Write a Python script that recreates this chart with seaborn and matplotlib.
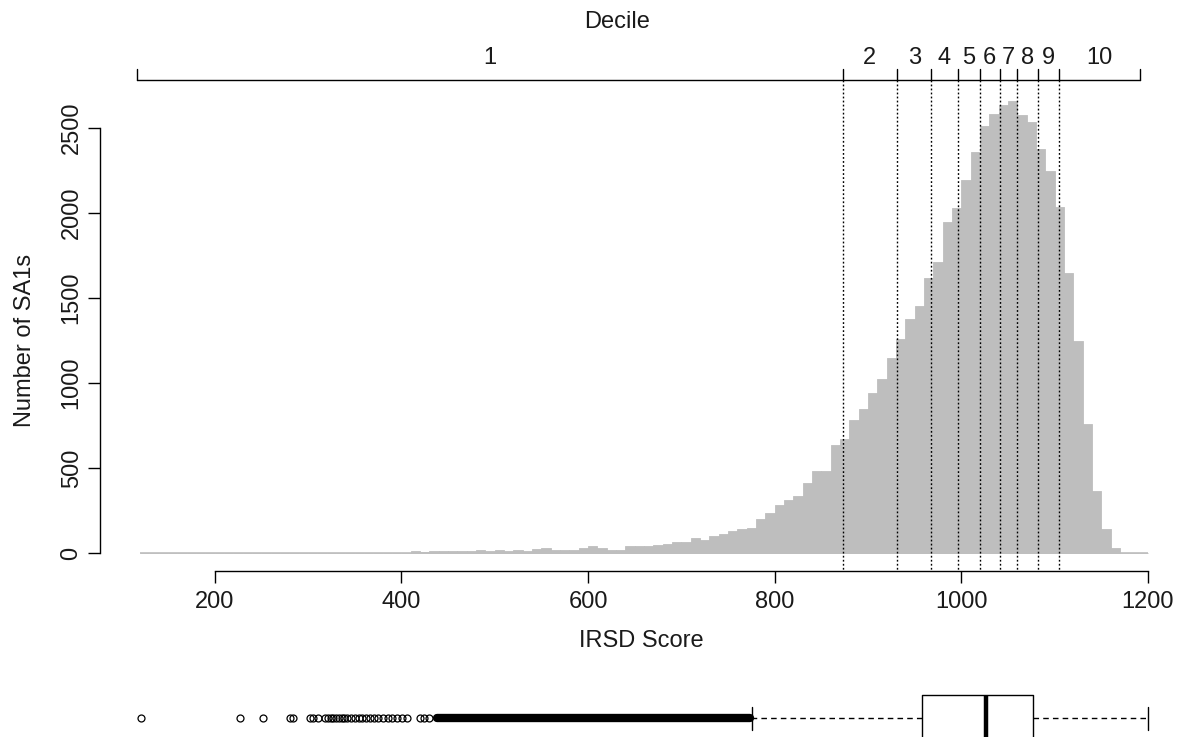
import numpy as np
import pandas as pd
import matplotlib
matplotlib.use("Agg")
import matplotlib.pyplot as plt
import matplotlib.transforms as mtransforms
import seaborn as sns

# ---------------- data ----------------
bin_start = 120
bin_end = 1200
bin_width = 10
# counts per 10-point bin, 120-130 ... 1190-1200
tail_zero = [0] * 29  # 120 .. 400
counts_410_800 = [12, 3, 10, 10, 10, 10, 10, 20, 10, 20, 10, 20, 10, 24, 30,
                  20, 20, 20, 27, 39, 31, 20, 20, 39, 39, 39, 47, 55, 65, 65,
                  85, 77, 102, 112, 128, 138, 147, 202, 236]
counts_800_1200 = [285, 310, 338, 409, 481, 481, 633, 672, 780, 849,
                   939, 1022, 1148, 1258, 1376, 1454, 1616, 1714, 1950, 2028,
                   2197, 2358, 2510, 2584, 2634, 2657, 2575, 2539, 2378, 2250,
                   2034, 1645, 1248, 761, 364, 138, 29, 0, 0, 0]
counts = tail_zero + counts_410_800 + counts_800_1200

decile_cuts = [873, 931, 968, 996, 1020, 1041, 1060, 1082, 1105]
decile_labels = ["1", "2", "3", "4", "5", "6", "7", "8", "9", "10"]
score_min = 117
score_max = 1191

box_q1 = 950
box_median = 1018
box_q3 = 1069
whisker_low = 769
whisker_high = 1191
sparse_outliers = [117.7, 223.5, 248.4, 276.8, 279.7, 298, 301.7, 307,
                   314, 317, 320, 323, 326, 329, 332,
                   334, 338, 342, 346, 350, 354, 358,
                   362, 366, 371, 376, 381,
                   386, 391, 396, 401,
                   415, 420, 425]
dense_outliers_from = 433
dense_outliers_to = 767

x_ticks = [200, 400, 600, 800, 1000, 1200]
y_ticks = [0, 500, 1000, 1500, 2000, 2500]

# ---------------- figure ----------------
sns.set_style("white")
plt.rcParams["font.family"] = ["Liberation Sans", "DejaVu Sans"]

TXT = "#1a1a1a"
FS = 17

W, H = 1183, 737
fig = plt.figure(figsize=(W / 100, H / 100), dpi=100)

def fx(px):
    return px / W

def fy(py):
    return (H - py) / H

reg_left, reg_right = 99.7, 1188.3
reg_top, reg_bottom = 83.4, 571.0

ax = fig.add_axes([fx(reg_left), fy(reg_bottom), fx(reg_right - reg_left),
                   (reg_bottom - reg_top) / H])

n_bins = len(counts)
centers = [bin_start + bin_width * (i + 0.5) for i in range(n_bins)]
df = pd.DataFrame({"score": centers, "n": counts})
sns.histplot(data=df, x="score", weights="n", binwidth=bin_width,
             binrange=(bin_start, bin_end), color="#bebebe",
             edgecolor="#bebebe", linewidth=0.6, alpha=1, ax=ax)
ax.hlines(0, bin_start, bin_end, color="#bebebe", lw=1.2, zorder=0.5)

span = bin_end - bin_start
ax.set_xlim(bin_start - 0.04 * span, bin_end + 0.04 * span)
ymax = max(counts)
ax.set_ylim(-0.04 * ymax, ymax * 1.04)

for s in ["top", "right"]:
    ax.spines[s].set_visible(False)
for s in ["left", "bottom"]:
    ax.spines[s].set_color("black")
    ax.spines[s].set_linewidth(1)
ax.spines["bottom"].set_bounds(x_ticks[0], x_ticks[-1])
ax.spines["left"].set_bounds(y_ticks[0], y_ticks[-1])
ax.set_xticks(x_ticks)
ax.set_yticks(y_ticks)
ax.set_xticklabels([str(v) for v in x_ticks])
ax.set_yticklabels([str(v) for v in y_ticks], rotation=90, va="center")
ax.tick_params(axis="both", which="major", bottom=True, left=True, direction="out",
               length=8.3, width=1, color="black", labelsize=FS, labelcolor=TXT)
ax.tick_params(axis="x", pad=6)
ax.tick_params(axis="y", pad=4)
ax.set_xlabel("")
ax.set_ylabel("")

# decile dotted lines and bracket (x data, y figure)
bt = mtransforms.blended_transform_factory(ax.transData, fig.transFigure)
bracket_y = 80
for c in decile_cuts:
    ax.plot([c, c], [fy(bracket_y), fy(reg_bottom)], transform=bt, color="black",
            lw=1.0, linestyle=(0, (1.3, 1.6)), clip_on=False)
bounds = [score_min] + decile_cuts + [score_max]
ax.plot([score_min, score_max], [fy(bracket_y), fy(bracket_y)], transform=bt,
        color="black", lw=1.0, clip_on=False)
for b in bounds:
    ax.plot([b, b], [fy(bracket_y), fy(bracket_y - 11)], transform=bt,
            color="black", lw=1.0, clip_on=False)
for i, lab in enumerate(decile_labels):
    mid = (bounds[i] + bounds[i + 1]) / 2
    ax.text(mid, fy(58), lab, transform=bt, ha="center", va="center",
            fontsize=FS, color=TXT)

fig.text(fx(617), fy(22), "Decile", ha="center", va="center", fontsize=FS,
         color=TXT)
fig.text(fx(25), fy(340), "Number of SA1s", ha="center", va="center",
         rotation=90, fontsize=FS, color=TXT)
fig.text(fx(641), fy(641), "IRSD Score", ha="center", va="center", fontsize=FS,
         color=TXT)

# ---------------- box plot ----------------
ax2 = fig.add_axes([fx(reg_left), fy(768), fx(reg_right - reg_left), 100 / H])
srange = score_max - score_min
ax2.set_xlim(score_min - 0.04 * srange, score_max + 0.04 * srange)
ax2.set_ylim(-1, 1)
ax2.axis("off")
stats = [{"med": box_median, "q1": box_q1, "q3": box_q3,
          "whislo": whisker_low, "whishi": whisker_high,
          "fliers": sparse_outliers}]
bkw = dict(positions=[0], widths=0.92, capwidths=0.46,
           boxprops=dict(color="black", lw=1.0),
           medianprops=dict(color="black", lw=3.2),
           whiskerprops=dict(color="black", lw=1.0, linestyle=(0, (4, 3))),
           capprops=dict(color="black", lw=1.0),
           flierprops=dict(marker="o", markerfacecolor="none",
                           markeredgecolor="black", markersize=5,
                           markeredgewidth=0.9))
try:
    ax2.bxp(stats, orientation="horizontal", **bkw)
except TypeError:
    ax2.bxp(stats, vert=False, **bkw)
ax2.set_xlim(score_min - 0.04 * srange, score_max + 0.04 * srange)
ax2.set_ylim(-1, 1)
ax2.plot([dense_outliers_from, dense_outliers_to], [0, 0], color="black",
         lw=6.0, solid_capstyle="round", zorder=3)

fig.savefig("out.png", dpi=100)
